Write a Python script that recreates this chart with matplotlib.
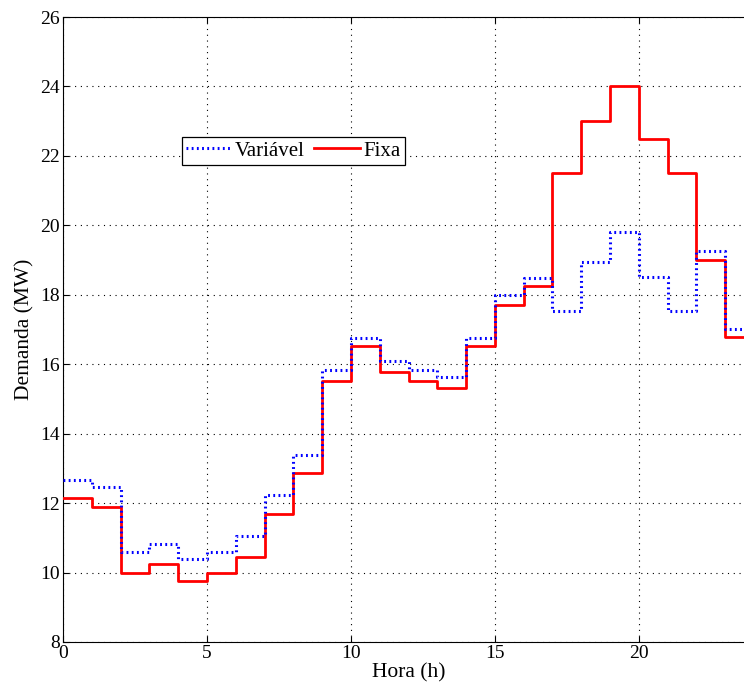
import matplotlib
matplotlib.use('Agg')
import matplotlib.pyplot as plt
import numpy as np

plt.rcParams.update({
    'font.family': ['Liberation Serif', 'DejaVu Serif'], 'font.size': 14,
    'figure.facecolor': 'white', 'savefig.facecolor': 'white',
})

# Demand per hour (MW), hours 0..23
hours = np.arange(0, 25)
variavel = [12.67, 12.45, 10.60, 10.83, 10.39, 10.60, 11.06, 12.23, 13.38, 15.82,
            16.76, 16.09, 15.83, 15.62, 16.76, 17.99, 18.47, 17.54, 18.93, 19.80,
            18.52, 17.54, 19.25, 17.02]
fixa = [12.15, 11.90, 10.00, 10.24, 9.76, 10.00, 10.46, 11.68, 12.86, 15.53,
        16.53, 15.78, 15.53, 15.31, 16.53, 17.72, 18.25, 21.50, 23.00, 24.00,
        22.50, 21.50, 19.00, 16.77]

xticks = [0, 5, 10, 15, 20]
yticks = np.arange(8, 27, 2)

fig = plt.figure(figsize=(7.44, 6.93), dpi=100)
ax = fig.add_axes([63/744, 51/693, 691/744, 625/693])

ax.step(hours, variavel + [variavel[-1]], where='post', color='blue',
        ls=(0, (0.6, 1.1)), lw=2.2, label='Variável', zorder=4)
ax.step(hours, fixa + [fixa[-1]], where='post', color='red', lw=2.0,
        label='Fixa', zorder=3)

ax.set_xlim(0, 24)
ax.set_ylim(8, 26)
ax.set_xticks(xticks)
ax.set_yticks(yticks)
ax.grid(True, ls=(0, (1, 4.2)), color='black', lw=0.8)
ax.tick_params(direction='in', top=True, right=True, length=4, pad=2,
               labelsize=14)
ax.set_xlabel('Hora (h)', fontsize=15.5, labelpad=1)
ax.set_ylabel('Demanda (MW)', fontsize=15.5, labelpad=4)

leg = ax.legend(ncol=2, loc='upper left', bbox_to_anchor=(0.172, 0.808),
                borderaxespad=0, fancybox=False, edgecolor='black',
                framealpha=1, handlelength=2.2, handletextpad=0.15,
                columnspacing=0.45, borderpad=0.2, fontsize=15)
leg.get_frame().set_linewidth(0.9)

fig.savefig('out.png', dpi=100)
